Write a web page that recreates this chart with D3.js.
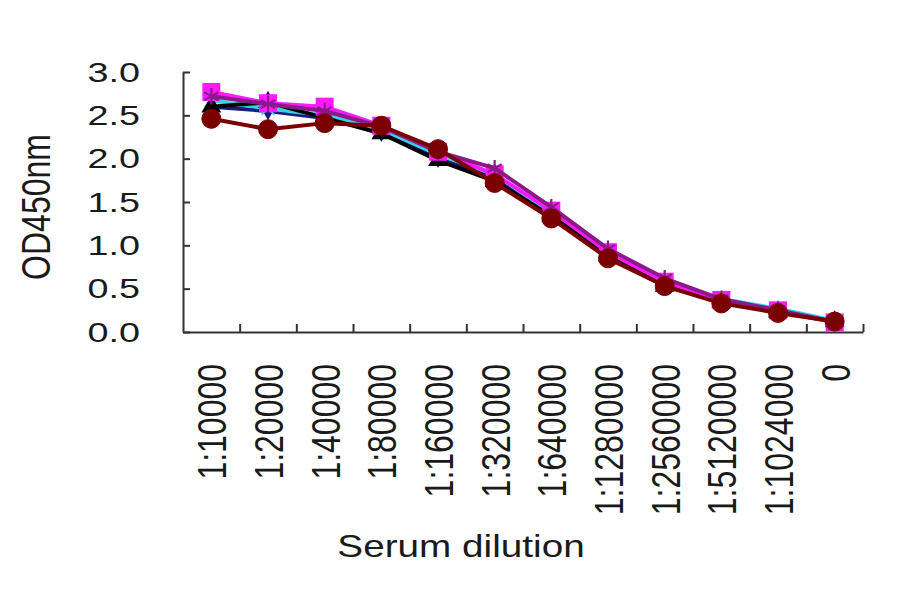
<!DOCTYPE html>
<html>
<head>
<meta charset="utf-8">
<script src="https://cdn.jsdelivr.net/npm/d3@7"></script>
<style>
  html, body { margin: 0; padding: 0; background: #fff; }
  svg { display: block; font-family: "Liberation Sans", Arial, sans-serif; }
</style>
</head>
<body>
<svg id="chart" width="900" height="594"></svg>
<script>
const categories = ["1:10000","1:20000","1:40000","1:80000","1:160000","1:320000","1:640000","1:1280000","1:2560000","1:5120000","1:1024000","0"];
const yTicks = [0, 0.5, 1.0, 1.5, 2.0, 2.5, 3.0];
const navySeries    = [2.60, 2.55, 2.47, 2.30, 2.00, 1.78, 1.36, 0.90, 0.57, 0.37, 0.26, 0.12];
const magentaSeries = [2.77, 2.64, 2.60, 2.38, 2.08, 1.82, 1.40, 0.92, 0.58, 0.37, 0.25, 0.11];
const blackSeries   = [2.60, 2.65, 2.47, 2.29, 1.98, 1.74, 1.34, 0.88, 0.53, 0.35, 0.23, 0.12];
const cyanSeries    = [2.67, 2.58, 2.50, 2.34, 2.05, 1.82, 1.38, 0.92, 0.60, 0.38, 0.27, 0.13];
const purpleSeries  = [2.72, 2.63, 2.55, 2.37, 2.08, 1.89, 1.44, 0.96, 0.62, 0.38, 0.25, 0.12];
const maroonSeries  = [2.46, 2.34, 2.41, 2.38, 2.11, 1.72, 1.31, 0.85, 0.53, 0.33, 0.22, 0.12];

const series = [
  {values: navySeries,    color: "#1a1a80", marker: "diamond"},
  {values: cyanSeries,    color: "#33d6e0", marker: "x"},
  {values: blackSeries,   color: "#000000", marker: "triangle"},
  {values: magentaSeries, color: "#ff1aff", marker: "square"},
  {values: purpleSeries,  color: "#8a1a8a", marker: "star"},
  {values: maroonSeries,  color: "#7a0000", marker: "circle"}
];

const svg = d3.select("#chart");
const plotLeft = 183, plotRight = 863, plotTop = 72, plotBottom = 332;

const x = d3.scaleBand().domain(categories).range([plotLeft, plotRight]).padding(0);
const xb = d3.scaleLinear().domain([0, categories.length]).range([plotLeft, plotRight]);
const y = d3.scaleLinear().domain([0, 3]).range([plotBottom, plotTop]);

// Y axis
const yAxis = svg.append("g")
  .attr("transform", `translate(${plotLeft},0)`)
  .call(d3.axisLeft(y).tickValues(yTicks).tickSizeInner(-7).tickSizeOuter(0).tickFormat(""));
yAxis.select(".domain").attr("stroke", "#333").attr("stroke-width", 2);
yAxis.selectAll(".tick line").attr("stroke", "#333").attr("stroke-width", 2);

svg.append("g").selectAll("text").data(yTicks).join("text")
  .attr("transform", d => `translate(140,${y(d)}) scale(1.4,1)`)
  .attr("text-anchor", "end")
  .attr("dy", "0.36em")
  .attr("font-size", 27)
  .attr("fill", "#1a1a1a")
  .text(d => d.toFixed(1));

// X axis (ticks at category boundaries)
const xAxis = svg.append("g")
  .attr("transform", `translate(0,${plotBottom})`)
  .call(d3.axisBottom(xb).tickValues(d3.range(1, categories.length + 1)).tickSizeInner(-8).tickSizeOuter(0).tickFormat(""));
xAxis.select(".domain").attr("stroke", "#333").attr("stroke-width", 2);
xAxis.selectAll(".tick line").attr("stroke", "#333").attr("stroke-width", 2);

svg.append("g").selectAll("text").data(categories).join("text")
  .attr("transform", d => `translate(${x(d) + x.bandwidth() / 2 + 15},364) scale(1.26,1) rotate(-90)`)
  .attr("text-anchor", "end")
  .attr("font-size", 32)
  .attr("fill", "#1a1a1a")
  .text(d => d);

// Axis titles
svg.append("text")
  .attr("transform", "translate(461,557) scale(1.21,1)")
  .attr("text-anchor", "middle")
  .attr("font-size", 32)
  .attr("fill", "#1a1a1a")
  .text("Serum dilution");

svg.append("text")
  .attr("transform", "translate(50,207) scale(1.25,1) rotate(-90)")
  .attr("text-anchor", "middle")
  .attr("font-size", 32)
  .attr("fill", "#1a1a1a")
  .text("OD450nm");

// Lines and markers
const cx = i => x(categories[i]) + x.bandwidth() / 2;
const line = d3.line()
  .x((d, i) => cx(i))
  .y(d => y(d));

series.forEach(s => {
  const g = svg.append("g");
  g.append("path")
    .datum(s.values)
    .attr("d", line)
    .attr("fill", "none")
    .attr("stroke", s.color)
    .attr("stroke-width", 4)
    .attr("stroke-linejoin", "round");

  const pts = g.selectAll(".m").data(s.values).join("g")
    .attr("transform", (d, i) => `translate(${cx(i)},${y(d)})`);

  if (s.marker === "circle") {
    pts.append("circle").attr("r", 9.5).attr("fill", s.color).attr("stroke", s.color);
  } else if (s.marker === "square") {
    pts.append("rect").attr("x", -9).attr("y", -9).attr("width", 18).attr("height", 18).attr("fill", s.color);
  } else if (s.marker === "triangle") {
    pts.append("path").attr("d", d3.symbol(d3.symbolTriangle, 170)).attr("fill", s.color);
  } else if (s.marker === "diamond") {
    pts.append("path").attr("d", d3.symbol(d3.symbolDiamond, 100)).attr("fill", s.color);
  } else if (s.marker === "x") {
    pts.append("path").attr("d", d3.symbol(d3.symbolX, 110)).attr("fill", "none").attr("stroke", s.color).attr("stroke-width", 2);
  } else if (s.marker === "star") {
    pts.append("path").attr("d", d3.symbol(d3.symbolAsterisk, 190)).attr("fill", "none").attr("stroke", s.color).attr("stroke-width", 2.2);
  }
});
</script>
</body>
</html>
